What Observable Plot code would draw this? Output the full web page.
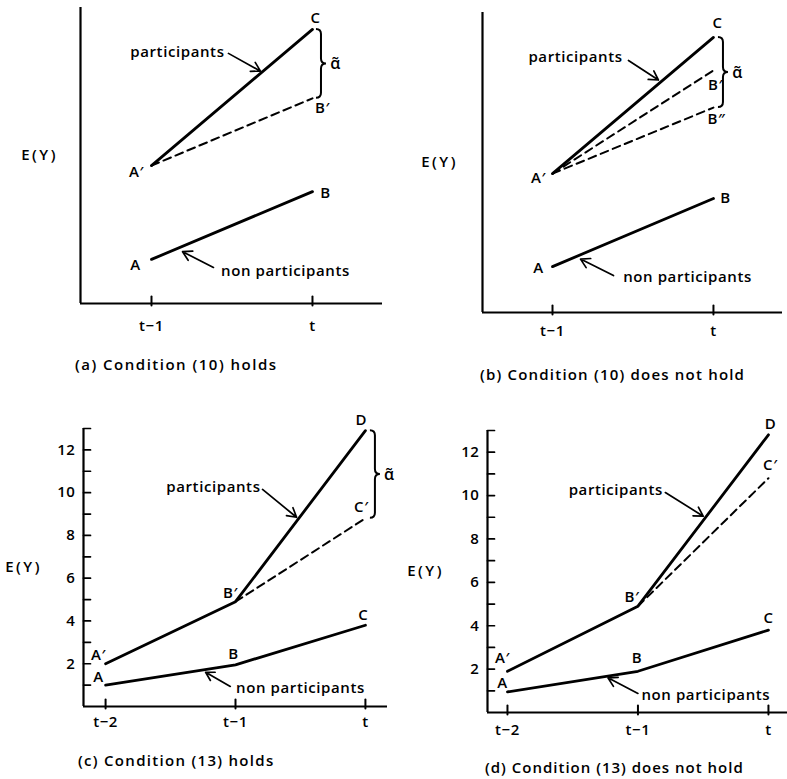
<!DOCTYPE html>
<html>
<head>
<meta charset="utf-8">
<script src="https://cdn.jsdelivr.net/npm/d3@7"></script>
<script src="https://cdn.jsdelivr.net/npm/@observablehq/plot@0.6"></script>
<style>
  html, body { margin: 0; padding: 0; background: #fff; }
  #wrap { position: relative; width: 787px; height: 779px; overflow: hidden; background: #fff; }
  #wrap svg { position: absolute; overflow: visible; }
  #wrap svg text { letter-spacing: 0.6px; }
  .cap { position: absolute; font: 600 15px "Open Sans", "Liberation Sans", sans-serif; line-height: 15px; white-space: nowrap; color: #000; }
</style>
</head>
<body>
<div id="wrap"></div>
<script>
// ---------- data ----------
const timesAB = ["t−1", "t"];
const timesCD = ["t−2", "t−1", "t"];
const yTicksCD = [2, 4, 6, 8, 10, 12];
const yMinorCD = [1, 2, 3, 4, 5, 6, 7, 8, 9, 10, 11, 12, 13];

// panel (a): Condition (10) holds
const aParticipants = [4.66, 9.26];
const aCounterfactual = [4.66, 6.93];
const aNonParticipants = [1.49, 3.78];

// panel (b): Condition (10) does not hold
const bParticipants = [4.63, 9.17];
const bCounterfactual1 = [4.63, 8.07];
const bCounterfactual2 = [4.63, 6.83];
const bNonParticipants = [1.53, 3.80];

// panel (c): Condition (13) holds
const cParticipants = [2.0, 4.9, 12.9];
const cCounterfactual = [null, 4.9, 8.8];
const cNonParticipants = [1.0, 1.95, 3.8];

// panel (d): Condition (13) does not hold
const dParticipants = [1.9, 4.9, 12.8];
const dCounterfactual = [null, 4.9, 10.8];
const dNonParticipants = [0.95, 1.9, 3.8];

const captions = [
  "(a) Condition (10) holds",
  "(b) Condition (10) does not hold",
  "(c) Condition (13) holds",
  "(d) Condition (13) does not hold"
];
const yLabel = "E(Y)";
const partText = "participants";
const nonText = "non participants";
const alphaText = "α̃";

// ---------- helpers ----------
const FONT = "'Open Sans', 'Liberation Sans', sans-serif";
const pts = (vals) => vals.map((v, i) => ({t: i, v})).filter((d) => d.v != null);
const tickShape = { draw(ctx, l) { ctx.moveTo(0, 0); ctx.lineTo(0, -l); } };

function brace(t, vTop, vBot, dxPx) {
  return (index, scales) => {
    const x0 = scales.x(t) + dxPx;
    const y1 = scales.y(vTop), y2 = scales.y(vBot);
    const m = (y1 + y2) / 2, r = 5;
    const p = document.createElementNS("http://www.w3.org/2000/svg", "path");
    p.setAttribute("d",
      `M${x0 - r},${y1} Q${x0},${y1} ${x0},${y1 + r} L${x0},${m - r} Q${x0},${m} ${x0 + r},${m} ` +
      `Q${x0},${m} ${x0},${m + r} L${x0},${y2 - r} Q${x0},${y2} ${x0 - r},${y2}`);
    p.setAttribute("fill", "none");
    p.setAttribute("stroke", "black");
    p.setAttribute("stroke-width", "2");
    return p;
  };
}

function panel(cfg) {
  const [mt, mr, mb, ml] = cfg.margins;
  const marks = [];
  // axis lines
  marks.push(Plot.ruleY([cfg.yd[0]], {stroke: "black", strokeWidth: 2.2}));
  marks.push(Plot.ruleX([cfg.xd[0]], {stroke: "black", strokeWidth: 2.2}));
  // x ticks + labels
  const xIdx = cfg.times.map((_, i) => i);
  marks.push(Plot.vector(xIdx, {x: (d) => d, y: () => cfg.yd[0], length: 9, shape: tickShape, anchor: "start", dy: 2, stroke: "black", strokeWidth: 2}));
  marks.push(Plot.axisX({ticks: xIdx, tickFormat: (i) => cfg.times[i], tickSize: 0, tickPadding: cfg.xPad, label: null, fontSize: 15}));
  // y ticks
  if (cfg.yTicks) {
    marks.push(Plot.vector(cfg.yMinor, {x: () => cfg.xd[0], y: (d) => d, length: 7, rotate: 90, shape: tickShape, anchor: "start", stroke: "black", strokeWidth: 1.7}));
    marks.push(Plot.axisY({ticks: cfg.yTicks, tickSize: 0, tickPadding: 8, label: null, fontSize: 15}));
  }
  // y label
  marks.push(Plot.text([yLabel], {frameAnchor: "left", text: (d) => d, textAnchor: "middle", dx: cfg.yLabelDx, fontSize: 15}));
  // lines
  for (const s of cfg.solid) marks.push(Plot.line(pts(s), {x: "t", y: "v", stroke: "black", strokeWidth: 2.8}));
  for (const s of cfg.dashed) marks.push(Plot.line(pts(s), {x: "t", y: "v", stroke: "black", strokeWidth: 2, strokeDasharray: "8,5"}));
  // point labels
  for (const l of cfg.labels) {
    marks.push(Plot.text([{t: l.t, v: l.series[l.t], s: l.text}], {x: "t", y: "v", text: "s", dx: l.dx, dy: l.dy, fontSize: 15}));
  }
  // brace + alpha
  if (cfg.brace) {
    const b = cfg.brace;
    marks.push(brace(b.t, b.top[b.t], b.bot[b.t], b.dx));
    marks.push(Plot.text([{t: b.t, v: (b.top[b.t] + b.bot[b.t]) / 2}], {x: "t", y: "v", text: () => alphaText, dx: b.dx + 14, fontSize: 16}));
  }
  // annotations
  for (const a of cfg.notes) {
    marks.push(Plot.text([a], {x: "x", y: "y", text: "text", fontSize: 15}));
    marks.push(Plot.arrow([a], {x1: "ax1", y1: "ay1", x2: "ax2", y2: "ay2", stroke: "black", strokeWidth: 1.7, headLength: 9}));
  }
  const svg = Plot.plot({
    width: cfg.width, height: cfg.height,
    marginTop: mt, marginRight: mr, marginBottom: mb, marginLeft: ml,
    x: {domain: cfg.xd},
    y: {domain: cfg.yd, axis: null},
    style: {fontFamily: FONT, fontSize: "15px", fontWeight: 600, color: "black", background: "white", overflow: "visible"},
    marks
  });
  svg.style.left = cfg.left + "px";
  svg.style.top = cfg.top + "px";
  d3.select(svg).selectAll("text")
    .filter(function () { return this.textContent === yLabel; })
    .style("letter-spacing", "2.5px");
  return svg;
}

const wrap = document.getElementById("wrap");

const cfgs = [
  {
    left: 0, top: 0, width: 393, height: 345, margins: [7, 11, 42, 80],
    xd: [-0.441, 1.435], yd: [0, 10], times: timesAB, xPad: 17, yLabelDx: -41,
    solid: [aParticipants, aNonParticipants], dashed: [aCounterfactual],
    labels: [
      {series: aParticipants, t: 0, text: "A′", dx: -15, dy: 7},
      {series: aParticipants, t: 1, text: "C", dx: 3, dy: -11},
      {series: aCounterfactual, t: 1, text: "B′", dx: 10, dy: 10},
      {series: aNonParticipants, t: 0, text: "A", dx: -16, dy: 6},
      {series: aNonParticipants, t: 1, text: "B", dx: 13, dy: 2}
    ],
    brace: {t: 1, top: aParticipants, bot: aCounterfactual, dx: 9},
    notes: [
      {text: partText, x: 0.161, y: 8.48, ax1: 0.478, ay1: 8.45, ax2: 0.677, ay2: 7.85},
      {text: nonText, x: 0.832, y: 1.08, ax1: 0.385, ay1: 1.22, ax2: 0.193, ay2: 1.75}
    ]
  },
  {
    left: 400, top: 0, width: 387, height: 345, margins: [12, 5, 33, 82],
    xd: [-0.435, 1.429], yd: [0, 10], times: timesAB, xPad: 13, yLabelDx: -43,
    solid: [bParticipants, bNonParticipants], dashed: [bCounterfactual1, bCounterfactual2],
    labels: [
      {series: bParticipants, t: 0, text: "A′", dx: -14, dy: 5},
      {series: bParticipants, t: 1, text: "C", dx: 4, dy: -14},
      {series: bCounterfactual1, t: 1, text: "B′", dx: 2, dy: 15},
      {series: bCounterfactual2, t: 1, text: "B″", dx: 3, dy: 12},
      {series: bNonParticipants, t: 0, text: "A", dx: -14, dy: 2},
      {series: bNonParticipants, t: 1, text: "B", dx: 12, dy: 0}
    ],
    brace: {t: 1, top: bParticipants, bot: bCounterfactual2, dx: 10},
    notes: [
      {text: partText, x: 0.143, y: 8.5, ax1: 0.472, ay1: 8.4, ax2: 0.658, ay2: 7.75},
      {text: nonText, x: 0.839, y: 1.17, ax1: 0.379, ay1: 1.23, ax2: 0.174, ay2: 1.78}
    ]
  },
  {
    left: 0, top: 390, width: 393, height: 350, margins: [38, 6, 34, 83],
    xd: [-0.17, 2.17], yd: [0, 13], times: timesCD, xPad: 10, yLabelDx: -60,
    yTicks: yTicksCD, yMinor: yMinorCD,
    solid: [cParticipants, cNonParticipants], dashed: [cCounterfactual],
    labels: [
      {series: cParticipants, t: 0, text: "A′", dx: -7, dy: -9},
      {series: cParticipants, t: 1, text: "B′", dx: -5, dy: -9},
      {series: cParticipants, t: 2, text: "D", dx: -4, dy: -10},
      {series: cCounterfactual, t: 2, text: "C′", dx: -4, dy: -11},
      {series: cNonParticipants, t: 0, text: "A", dx: -7, dy: -8},
      {series: cNonParticipants, t: 1, text: "B", dx: -2, dy: -11},
      {series: cNonParticipants, t: 2, text: "C", dx: -2, dy: -10}
    ],
    brace: {t: 2, top: cParticipants, bot: cCounterfactual, dx: 10},
    notes: [
      {text: partText, x: 0.83, y: 10.24, ax1: 1.208, ay1: 10.15, ax2: 1.47, ay2: 8.85},
      {text: nonText, x: 1.5, y: 0.84, ax1: 0.96, ay1: 0.94, ax2: 0.77, ay2: 1.6}
    ]
  },
  {
    left: 400, top: 390, width: 387, height: 350, margins: [40, 0, 28, 87],
    xd: [-0.153, 2.146], yd: [0, 13], times: timesCD, xPad: 12, yLabelDx: -62,
    yTicks: yTicksCD, yMinor: yMinorCD,
    solid: [dParticipants, dNonParticipants], dashed: [dCounterfactual],
    labels: [
      {series: dParticipants, t: 0, text: "A′", dx: -5, dy: -13},
      {series: dParticipants, t: 1, text: "B′", dx: -6, dy: -9},
      {series: dParticipants, t: 2, text: "D", dx: 2, dy: -11},
      {series: dCounterfactual, t: 2, text: "C′", dx: 2, dy: -13},
      {series: dNonParticipants, t: 0, text: "A", dx: -5, dy: -9},
      {series: dNonParticipants, t: 1, text: "B", dx: -1, dy: -13},
      {series: dNonParticipants, t: 2, text: "C", dx: 0, dy: -12}
    ],
    brace: null,
    notes: [
      {text: partText, x: 0.83, y: 10.23, ax1: 1.21, ay1: 10.14, ax2: 1.5, ay2: 9.05},
      {text: nonText, x: 1.52, y: 0.78, ax1: 1.0, ay1: 0.88, ax2: 0.77, ay2: 1.6}
    ]
  }
];

for (const c of cfgs) wrap.appendChild(panel(c));

const capPos = [
  {left: 75, top: 357, ls: 1.5}, {left: 480, top: 367, ls: 1.2},
  {left: 78, top: 753, ls: 1.3}, {left: 485, top: 760, ls: 1.0}
];
captions.forEach((txt, i) => {
  const d = document.createElement("div");
  d.className = "cap";
  d.textContent = txt;
  d.style.left = capPos[i].left + "px";
  d.style.top = capPos[i].top + "px";
  d.style.letterSpacing = capPos[i].ls + "px";
  wrap.appendChild(d);
});
</script>
</body>
</html>
